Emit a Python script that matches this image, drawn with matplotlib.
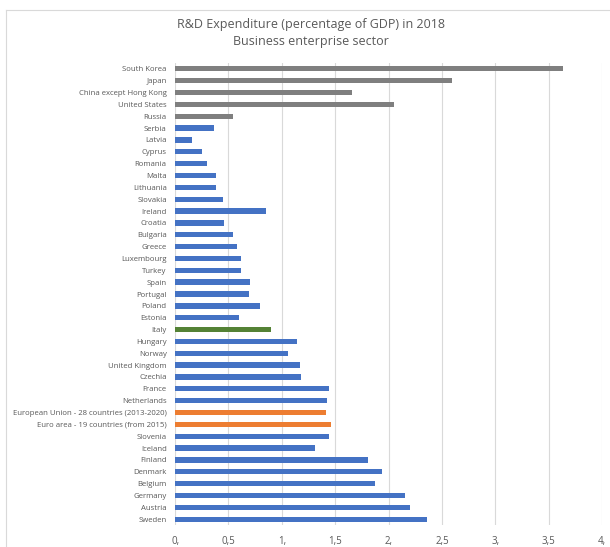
import matplotlib.pyplot as plt
from matplotlib.lines import Line2D

countries = ['South Korea', 'Japan', 'China except Hong Kong', 'United States', 'Russia',
             'Serbia', 'Latvia', 'Cyprus', 'Romania', 'Malta', 'Lithuania', 'Slovakia',
             'Ireland', 'Croatia', 'Bulgaria', 'Greece', 'Luxembourg', 'Turkey', 'Spain',
             'Portugal', 'Poland', 'Estonia', 'Italy', 'Hungary', 'Norway', 'United Kingdom',
             'Czechia', 'France', 'Netherlands', 'European Union - 28 countries (2013-2020)',
             'Euro area - 19 countries (from 2015)', 'Slovenia', 'Iceland', 'Finland',
             'Denmark', 'Belgium', 'Germany', 'Austria', 'Sweden']
values = [3.63, 2.59, 1.66, 2.05, 0.54,
          0.36, 0.16, 0.25, 0.30, 0.38, 0.38, 0.45,
          0.85, 0.46, 0.54, 0.58, 0.62, 0.62, 0.70,
          0.69, 0.80, 0.60, 0.90, 1.14, 1.06, 1.17,
          1.18, 1.44, 1.42, 1.41,
          1.46, 1.44, 1.31, 1.81,
          1.94, 1.87, 2.15, 2.20, 2.36]
groups = ['other'] * 5 + ['eu'] * 17 + ['italy'] + ['eu'] * 6 + ['agg', 'agg'] + ['eu'] * 8

colors = {'other': '#7F7F7F', 'eu': '#4472C4', 'italy': '#548235', 'agg': '#ED7D31'}
xticks = [0, 0.5, 1, 1.5, 2, 2.5, 3, 3.5, 4]
xticklabels = ['0,', '0,5', '1,', '1,5', '2,', '2,5', '3,', '3,5', '4,']

plt.rcParams['font.family'] = ['Open Sans', 'DejaVu Sans']

fig = plt.figure(figsize=(6.1, 5.47), dpi=100)
ax = fig.add_axes([0.287, 0.040, 0.700, 0.845])

ypos = list(range(len(countries)))
ax.barh(ypos, values, height=0.45, color=[colors[g] for g in groups], zorder=3)

ax.set_yticks(ypos)
ax.set_yticklabels(countries, fontsize=5.6, color='#595959')
ax.set_ylim(len(countries) - 0.5, -0.5)
ax.set_xlim(0, 4)
ax.set_xticks(xticks)
ax.set_xticklabels(xticklabels, fontsize=7, color='#595959')
ax.tick_params(length=0, pad=6)
ax.tick_params(axis='x', pad=8)
ax.grid(axis='x', color='#D9D9D9', linewidth=0.8, zorder=0)
for s in ax.spines.values():
    s.set_visible(False)

fig.text(0.51, 0.955, 'R&D Expenditure (percentage of GDP) in 2018', ha='center', va='center',
         fontsize=9, color='#595959')
fig.text(0.51, 0.924, 'Business enterprise sector', ha='center', va='center',
         fontsize=9, color='#595959')

# chart frame
fig.add_artist(Line2D([6 / 610, 1], [1 - 10 / 547, 1 - 10 / 547], color='#D9D9D9', lw=0.8))
fig.add_artist(Line2D([6 / 610, 6 / 610], [0, 1 - 10 / 547], color='#D9D9D9', lw=0.8))

fig.savefig('out.png', dpi=100)
